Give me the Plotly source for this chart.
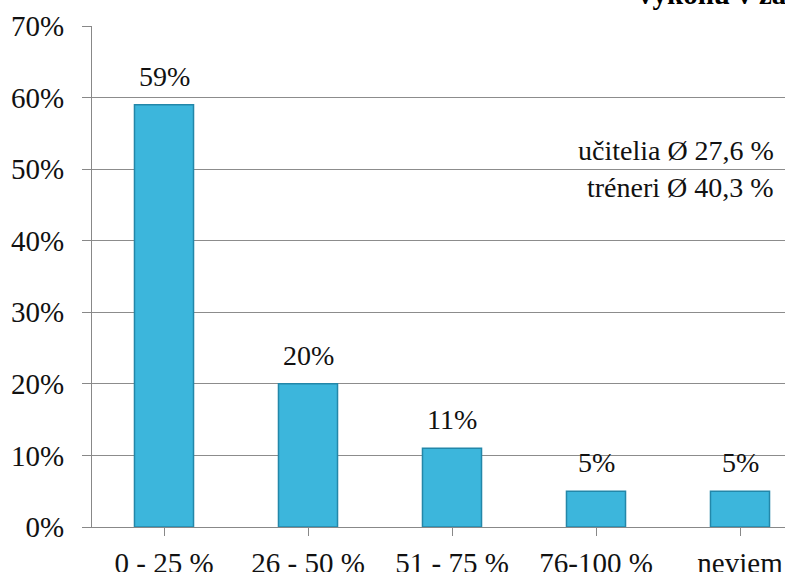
import plotly.graph_objects as go

categories = ["0 - 25 %", "26 - 50 %", "51 - 75 %", "76-100 %", "neviem"]
values = [0.59, 0.20, 0.11, 0.05, 0.05]
labels = ["59%", "20%", "11%", "5%", "5%"]
note_lines = ["učitelia Ø 27,6 %", "tréneri Ø 40,3 %"]
title_text = "výkonu v zá"

FONT = "Liberation Serif"
W, H = 785, 572
ML, MT, MB = 92, 26, 45
plot_h = H - MT - MB
plot_w = W - ML

fig = go.Figure()
fig.add_trace(go.Bar(
    x=list(range(len(categories))), y=values, width=0.41,
    marker=dict(color="#3CB6DC", line=dict(color="#2387A9", width=1.5)),
    hoverinfo="skip",
))

for i, (v, t) in enumerate(zip(values, labels)):
    fig.add_annotation(x=i, y=v, text=t, showarrow=False, yanchor="bottom",
                       yshift=11, font=dict(family=FONT, size=28, color="#111"))

fig.add_shape(type="rect", xref="paper", yref="paper",
              x0=(614 - ML) / plot_w, x1=1.0, y0=1 - 8 / plot_h, y1=1 + 30 / plot_h,
              fillcolor="white", line=dict(width=0), layer="above")

fig.add_annotation(xref="paper", yref="paper", x=(636 - ML) / plot_w, y=1 + 14 / plot_h,
                   xanchor="left", yanchor="bottom", showarrow=False,
                   text="<b>" + title_text + "</b>",
                   font=dict(family=FONT, size=29, color="#000"))

fig.add_annotation(xref="paper", yref="y", x=(776 - ML) / plot_w, y=0.5,
                   xanchor="right", yanchor="bottom", yshift=1, showarrow=False,
                   text=note_lines[0], font=dict(family=FONT, size=28, color="#111"))
fig.add_annotation(xref="paper", yref="y", x=(776 - ML) / plot_w, y=0.5,
                   xanchor="right", yanchor="top", yshift=-1, showarrow=False,
                   text=note_lines[1], font=dict(family=FONT, size=28, color="#111"))

fig.update_layout(
    width=W, height=H,
    margin=dict(l=ML, r=0, t=MT, b=MB, pad=0),
    plot_bgcolor="white", paper_bgcolor="white",
    showlegend=False,
    font=dict(family=FONT, size=26, color="#111"),
)
fig.update_xaxes(
    range=[-0.5, -0.5 + plot_w / 144.0], automargin=False,
    tickmode="array", tickvals=list(range(len(categories))), ticktext=categories,
    tickson="boundaries", ticks="outside", ticklen=8, tickcolor="#888",
    showline=True, linecolor="#888", linewidth=1, showgrid=False, zeroline=False,
    tickfont=dict(family=FONT, size=29, color="#111"),
    ticklabelstandoff=2,
)
fig.update_yaxes(
    range=[0, 0.7], dtick=0.1, tickformat=".0%", automargin=False,
    ticks="outside", ticklen=9, tickcolor="#888",
    showline=True, linecolor="#888", linewidth=1,
    showgrid=True, gridcolor="#8c8c8c", gridwidth=1, zeroline=False,
    tickfont=dict(family=FONT, size=29, color="#111"),
    ticklabelstandoff=12,
)

fig.write_html("out.html")
